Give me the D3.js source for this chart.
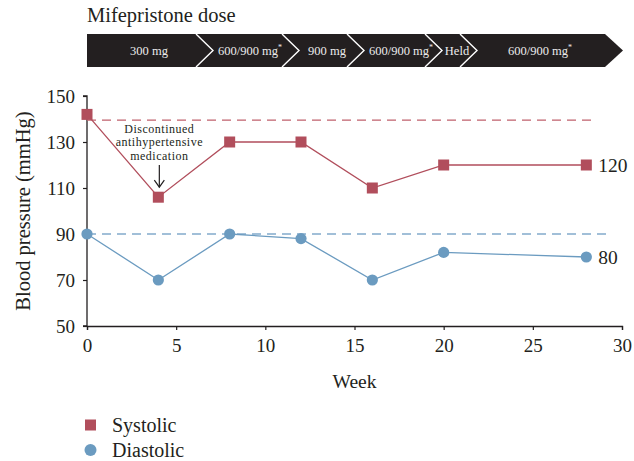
<!DOCTYPE html>
<html>
<head>
<meta charset="utf-8">
<script src="https://cdn.jsdelivr.net/npm/d3@7"></script>
<style>
  html, body { margin: 0; padding: 0; background: #fff; }
  svg { display: block; }
  svg text { font-family: "Liberation Serif", "DejaVu Serif", serif !important; }
</style>
</head>
<body>
<svg id="chart" width="634" height="461"></svg>
<script>
// ---- data ----
const weeks = [0, 4, 8, 12, 16, 20, 28];
const systolic = [142, 106, 130, 130, 110, 120, 120];
const diastolic = [90, 70, 90, 88, 70, 82, 80];
const systolicTarget = 139.5;
const diastolicTarget = 90;
const yTicks = [50, 70, 90, 110, 130, 150];
const xTicks = [0, 5, 10, 15, 20, 25, 30];
const doseLabels = ["300 mg", "600/900 mg", "900 mg", "600/900 mg", "Held", "600/900 mg"];
const doseAsterisk = [false, true, false, true, false, true];
const annotationLines = ["Discontinued", "antihypertensive", "medication"];

// ---- layout ----
const plot = { left: 87, right: 622, top: 96, bottom: 326 };
const red = "#b14e5c", redDash = "#c0606c";
const blue = "#6b9bc0", blueDash = "#82aacb";
const axisCol = "#231f20";
const bandCol = "#231f20";

const svg = d3.select("#chart");

const x = d3.scaleLinear().domain([0, 30]).range([plot.left, plot.right]);
const y = d3.scaleLinear().domain([50, 150]).range([plot.bottom, plot.top]);

// ---- dose band ----
const band = { left: 87, top: 34, bottom: 67, bodyEnd: 605, tip: 623 };
const chevTop = [196, 282, 347, 425, 460];
const chevDepth = 17;
const labelCx = [149, 250, 327, 401, 457, 540];
const midY = (band.top + band.bottom) / 2;

svg.append("text")
  .attr("x", 87).attr("y", 22)
  .attr("font-size", 20.5).attr("fill", "#231f20")
  .text("Mifepristone dose");

svg.append("path")
  .attr("d", `M${band.left},${band.top} L${band.bodyEnd},${band.top} L${band.tip},${midY} L${band.bodyEnd},${band.bottom} L${band.left},${band.bottom} Z`)
  .attr("fill", bandCol);

svg.selectAll("path.chev").data(chevTop).enter().append("path")
  .attr("class", "chev")
  .attr("d", d => `M${d},${band.top} L${d + chevDepth},${midY} L${d},${band.bottom}`)
  .attr("fill", "none").attr("stroke", "#fff").attr("stroke-width", 1.4);

const dl = svg.selectAll("text.dose").data(doseLabels).enter().append("text")
  .attr("class", "dose")
  .attr("x", (d, i) => labelCx[i]).attr("y", 55)
  .attr("text-anchor", "middle")
  .attr("font-size", 12.5).attr("fill", "#ececec")
  .text(d => d);
dl.filter((d, i) => doseAsterisk[i]).append("tspan")
  .attr("font-size", 8).attr("dy", -5).text("*");

// ---- axes ----
const yAxis = d3.axisLeft(y).tickValues(yTicks).tickSize(4).tickPadding(8).tickFormat(d3.format("d"));
const gy = svg.append("g").attr("transform", `translate(${plot.left},0)`).call(yAxis)
  .attr("font-family", "Liberation Serif, serif");
gy.select(".domain").attr("stroke", axisCol).attr("stroke-width", 1.3).attr("d", `M-4,${plot.top}H0V${plot.bottom}H-4`);
gy.selectAll(".tick line").attr("stroke", axisCol).attr("stroke-width", 1.2);
gy.selectAll(".tick text").attr("font-size", 19).attr("fill", "#231f20");

const xAxis = d3.axisBottom(x).tickValues(xTicks).tickSize(4).tickPadding(8).tickFormat(d3.format("d"));
const gx = svg.append("g").attr("transform", `translate(0,${plot.bottom})`).call(xAxis)
  .attr("font-family", "Liberation Serif, serif");
gx.select(".domain").attr("stroke", axisCol).attr("stroke-width", 1.3);
gx.selectAll(".tick line").attr("stroke", axisCol).attr("stroke-width", 1.2);
gx.selectAll(".tick text").attr("font-size", 19).attr("fill", "#231f20").attr("dy", "0.75em");

svg.append("text")
  .attr("x", (plot.left + plot.right) / 2).attr("y", 388)
  .attr("text-anchor", "middle").attr("font-size", 19.5).attr("fill", "#231f20")
  .text("Week");

svg.append("text")
  .attr("transform", `translate(30,${(plot.top + plot.bottom) / 2}) rotate(-90)`)
  .attr("text-anchor", "middle").attr("font-size", 20.5).attr("fill", "#231f20")
  .text("Blood pressure (mmHg)");

// ---- target lines ----
svg.append("line")
  .attr("x1", x(0)).attr("x2", x(28.4))
  .attr("y1", y(systolicTarget)).attr("y2", y(systolicTarget))
  .attr("stroke", redDash).attr("stroke-width", 1.4).attr("stroke-dasharray", "9,6");
svg.append("line")
  .attr("x1", x(0)).attr("x2", x(29.4))
  .attr("y1", y(diastolicTarget)).attr("y2", y(diastolicTarget))
  .attr("stroke", blueDash).attr("stroke-width", 1.4).attr("stroke-dasharray", "9,6");

// ---- series ----
const line = d3.line().x(d => x(d[0])).y(d => y(d[1]));
const sysPts = weeks.map((w, i) => [w, systolic[i]]);
const diaPts = weeks.map((w, i) => [w, diastolic[i]]);

svg.append("path").attr("d", line(sysPts)).attr("fill", "none")
  .attr("stroke", red).attr("stroke-width", 1.3);
svg.append("path").attr("d", line(diaPts)).attr("fill", "none")
  .attr("stroke", blue).attr("stroke-width", 1.3);

const sq = 11;
svg.selectAll("rect.sys").data(sysPts).enter().append("rect")
  .attr("class", "sys")
  .attr("x", d => x(d[0]) - sq / 2).attr("y", d => y(d[1]) - sq / 2)
  .attr("width", sq).attr("height", sq).attr("fill", red);

svg.selectAll("circle.dia").data(diaPts).enter().append("circle")
  .attr("class", "dia")
  .attr("cx", d => x(d[0])).attr("cy", d => y(d[1]))
  .attr("r", 5.6).attr("fill", blue);

// end labels
svg.append("text")
  .attr("x", x(weeks[weeks.length - 1]) + 12).attr("y", y(systolic[systolic.length - 1]) + 7)
  .attr("font-size", 19.5).attr("fill", "#231f20")
  .text(systolic[systolic.length - 1]);
svg.append("text")
  .attr("x", x(weeks[weeks.length - 1]) + 12).attr("y", y(diastolic[diastolic.length - 1]) + 7)
  .attr("font-size", 19.5).attr("fill", "#231f20")
  .text(diastolic[diastolic.length - 1]);

// ---- annotation ----
const annX = x(weeks[1]) + 1;
svg.selectAll("text.ann").data(annotationLines).enter().append("text")
  .attr("class", "ann")
  .attr("x", annX).attr("y", (d, i) => 132.5 + i * 13.5)
  .attr("text-anchor", "middle").attr("font-size", 12).attr("letter-spacing", 0.5)
  .attr("fill", "#231f20")
  .text(d => d);
const arrowTop = 165, arrowBot = y(systolic[1]) - 10;
svg.append("line")
  .attr("x1", annX).attr("x2", annX).attr("y1", arrowTop).attr("y2", arrowBot)
  .attr("stroke", "#231f20").attr("stroke-width", 1.2);
svg.append("path")
  .attr("d", `M${annX - 5},${arrowBot - 7} L${annX},${arrowBot} L${annX + 5},${arrowBot - 7}`)
  .attr("fill", "none").attr("stroke", "#231f20").attr("stroke-width", 1.2);

// ---- legend ----
svg.append("rect").attr("x", 85).attr("y", 419.5).attr("width", 11).attr("height", 11).attr("fill", red);
svg.append("text").attr("x", 112).attr("y", 432).attr("font-size", 20).attr("fill", "#231f20").text("Systolic");
svg.append("circle").attr("cx", 90.5).attr("cy", 450).attr("r", 6).attr("fill", blue);
svg.append("text").attr("x", 112).attr("y", 457).attr("font-size", 20).attr("fill", "#231f20").text("Diastolic");
</script>
</body>
</html>
